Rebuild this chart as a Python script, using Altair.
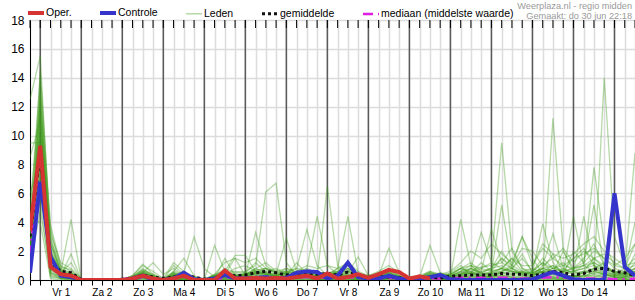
import altair as alt
import pandas as pd

FONT = "Liberation Sans"

DAY_LABELS = ["Vr 1", "Za 2", "Zo 3", "Ma 4", "Di 5", "Wo 6", "Do 7",
              "Vr 8", "Za 9", "Zo 10", "Ma 11", "Di 12", "Wo 13", "Do 14"]
DAY_STARTS = [1, 5, 9, 13, 17, 21, 25, 29, 33, 37, 41, 45, 49, 53, 57]
STEPS = list(range(60))          # 6-hour steps starting do 30 jun 18:00
Y_TICKS = [0, 2, 4, 6, 8, 10, 12, 14, 16, 18]

HEADER_1 = "Weerplaza.nl - regio midden"
HEADER_2 = "Gemaakt: do 30 jun 22:18"

# mm per 6 hours
OPER = [3.4, 9.3, 0.9, 0.4, 0.3, 0, 0, 0, 0, 0, 0.1, 0.3, 0.1, 0, 0.1, 0.3, 0,
        0, 0, 0.65, 0.1, 0.1, 0.15, 0.1, 0.15, 0.1, 0.2, 0.3, 0.1,
        0.45, 0.1, 0.2, 0.4, 0.15, 0.4, 0.7, 0.55, 0.1, 0.25, 0.1]

CONTROLE = [0.5, 6.8, 1.6, 0.3, 0.2, 0, 0, 0, 0, 0, 0.1, 0.3, 0.05, 0, 0.1, 0.5, 0.05,
            0, 0.1, 0.35, 0.1, 0.1, 0.15, 0.2, 0.1, 0.15, 0.5, 0.6, 0.55,
            0.1, 0.3, 1.2, 0.2, 0.1, 0.1, 0.3, 0.1, 0, 0.1, 0.2, 0.35,
            0.05, 0, 0, 0, 0, 0, 0, 0, 0.05, 0.3, 0.55, 0.3, 0.05, 0, 0, 0,
            6.0, 0.9, 0.3]

GEMIDDELDE = [3.0, 8.8, 1.2, 0.6, 0.5, 0.05, 0.02, 0.03, 0.02, 0.05, 0.15, 0.35, 0.2,
              0.1, 0.2, 0.35, 0.2, 0.05, 0.15, 0.35, 0.3, 0.35, 0.5, 0.6, 0.5,
              0.35, 0.45, 0.5, 0.4, 0.45, 0.35, 0.55, 0.35, 0.2, 0.25, 0.2, 0.15,
              0.1, 0.15, 0.2, 0.15, 0.25, 0.3, 0.35, 0.35, 0.35, 0.45, 0.4, 0.4,
              0.3, 0.4, 0.6, 0.5, 0.35, 0.45, 0.75, 0.8, 0.6, 0.5, 0.3]

MEDIAAN = [1.7, 9.2, 0.9, 0.3, 0.3, 0, 0, 0, 0, 0, 0.05, 0.2, 0.05, 0, 0.1, 0.2, 0.05,
           0, 0.05, 0.15, 0.15, 0.15, 0.2, 0.15, 0.15, 0.2, 0.15, 0.2, 0.15,
           0.15, 0.15, 0.2, 0.15, 0.05, 0.1, 0.15, 0.1, 0, 0.05, 0.1, 0.1,
           0.1, 0.15, 0.15, 0.15, 0.15, 0.15, 0.15, 0.1, 0.1, 0.15, 0.2, 0.15,
           0.1, 0.1, 0.1, 0.1, 0.05, 0.05, 0.1]

LEDEN = [
    [12.5, 15.5, 2.5, 0.6, 0.3, 0, 0, 0, 0, 0, 0.2, 0.8, 0.3, 0, 0.4, 0.2, 0, 0, 0.3, 0.8, 0.5, 0.6, 1.0, 6.1, 6.7, 1.2, 0.3, 0.5, 0.2, 0, 0.3, 0.8, 0.2, 0, 0.1, 0.3, 0.1, 0, 0, 0.2, 0.1, 0.3, 0.8, 0.5, 1.2, 0.6, 1.5, 0.8, 0.3, 0.2, 0.8, 1.8, 0.6, 1.5, 2.2, 1.0, 0.5, 0.3, 0.2, 0.6],
    [3.0, 14.5, 3.5, 0.8, 0.5, 0, 0, 0.1, 0, 0, 0.1, 0.5, 0.2, 0, 1.0, 0.4, 0, 0.1, 0.2, 0.4, 1.5, 0.3, 0.5, 0.8, 0.4, 2.9, 0.6, 0.2, 0.1, 0.4, 0.2, 0.3, 0, 0, 0.2, 0.4, 0.2, 0, 0, 0.3, 0.5, 0.2, 4.2, 1.0, 0.4, 0.5, 5.2, 0.8, 1.5, 0.6, 1.2, 0.5, 2.0, 0.8, 1.5, 2.5, 1.0, 0.5, 0.3, 1.2],
    [4.5, 14.0, 3.0, 0.5, 4.2, 0, 0, 0, 0, 0, 0.3, 1.1, 0.4, 0, 0.3, 0.2, 0, 0, 0.4, 0.6, 1.7, 1.7, 0.6, 0.4, 0.3, 0.5, 0.8, 3.5, 1.0, 0.3, 0.6, 1.2, 0.3, 0, 0, 0.6, 0.2, 0, 0.1, 0.4, 0.2, 0, 0.3, 0.8, 3.3, 1.2, 9.5, 2.0, 0.8, 0.4, 0.5, 0.8, 1.2, 0.6, 1.0, 7.8, 2.5, 1.0, 0.8, 2.5],
    [2.0, 13.5, 2.0, 0.3, 1.8, 0, 0.1, 0, 0, 0, 0.1, 0.6, 0.2, 0, 0.2, 0.5, 3.0, 0.8, 0.2, 0.3, 0.2, 0.3, 3.3, 1.0, 0.5, 0.2, 0.3, 0.6, 0.4, 0.2, 0.1, 0.4, 0.1, 0, 0.3, 0.5, 0.1, 0, 0.2, 0.6, 0.3, 0.5, 1.0, 0.3, 0.6, 3.5, 1.2, 0.8, 1.8, 0.5, 3.9, 1.2, 0.4, 0.2, 0.6, 1.5, 0.8, 0.3, 0.4, 1.8],
    [1.0, 13.0, 1.5, 0.4, 0.5, 0, 0, 0, 0, 0, 0.1, 0.3, 0.1, 0, 0.5, 0.3, 0.1, 0, 2.4, 0.6, 0.2, 0.4, 0.8, 0.5, 0.2, 0.3, 1.2, 0.4, 0.2, 0.1, 0.2, 0.5, 1.6, 0.3, 0.1, 0.2, 0, 0, 0, 0.1, 0, 0, 0.2, 0.5, 0.3, 0.2, 0.6, 1.0, 3.0, 1.5, 0.4, 11.2, 2.0, 0.6, 0.4, 0.8, 1.2, 0.4, 0.2, 0.8],
    [5.0, 12.5, 3.8, 1.0, 0.6, 0, 0, 0, 0, 0, 0.2, 0.5, 1.2, 0.4, 0.8, 0.3, 0.1, 0, 0.2, 0.4, 0.6, 0.5, 1.2, 0.6, 0.8, 0.4, 0.3, 0.8, 4.4, 1.0, 0.4, 0.3, 0.2, 0, 0.2, 0.3, 0.1, 0, 0, 0.2, 0, 0.1, 0.4, 0.8, 0.5, 0.4, 0.8, 0.6, 0.4, 0.3, 1.0, 3.2, 0.8, 0.5, 4.4, 1.0, 0.6, 0.4, 0.8, 1.5],
    [2.5, 12.0, 1.0, 0.2, 0.1, 0, 0, 0, 0, 0, 0.1, 0.2, 0.1, 0, 0.3, 0.1, 0, 0, 0.1, 1.5, 0.3, 0.2, 0.4, 0.3, 0.2, 0.3, 0.5, 0.4, 0.2, 6.5, 1.0, 0.3, 0.2, 0.1, 0.2, 0.4, 0.2, 0, 0, 0.1, 0, 0, 0.1, 0.3, 0.2, 0.3, 0.5, 0.4, 0.6, 0.8, 0.5, 0.4, 0.2, 0.3, 0.2, 0.6, 0.4, 0.2, 0.1, 0.3],
    [0.8, 11.8, 2.2, 0.5, 1.2, 0, 0, 0.1, 0, 0, 0.2, 0.7, 0.3, 0, 0.6, 1.5, 0.3, 0, 0.2, 0.3, 0.8, 1.0, 0.6, 0.8, 0.5, 0.4, 0.2, 0.3, 0.6, 0.3, 0.8, 4.4, 0.5, 0.2, 0.4, 0.8, 0.3, 0, 0.1, 0.4, 0.2, 0.2, 0.6, 1.0, 0.5, 0.8, 2.0, 1.0, 0.6, 0.5, 0.8, 0.6, 0.4, 2.0, 1.2, 5.2, 0.8, 0.6, 0.5, 0.4],
    [3.5, 11.5, 1.8, 0.6, 0.4, 0, 0, 0, 0, 0, 0.1, 0.4, 0.2, 0, 0.2, 0.1, 0, 0, 0.1, 0.2, 0.3, 0.4, 0.5, 0.6, 0.3, 0.5, 0.4, 0.3, 0.2, 0.2, 0.3, 0.2, 0.1, 0, 0.3, 2.2, 0.5, 0, 0.1, 0.3, 0.1, 0.2, 0.4, 0.6, 0.3, 0.4, 0.6, 0.8, 0.5, 0.3, 0.6, 0.5, 0.8, 0.4, 0.6, 0.4, 14.0, 3.0, 1.0, 0.5],
    [8.5, 11.0, 0.8, 0.3, 0.2, 0, 0, 0, 0, 0, 0, 0.2, 0, 0, 0.1, 0, 0, 0, 0, 0.1, 0.2, 0.1, 0.3, 0.2, 0.1, 0.2, 0.1, 0.2, 0.1, 0.1, 0.2, 0.1, 0, 0, 0, 0.1, 0, 0, 0, 0.1, 0, 0, 0.1, 0.2, 0.1, 0.2, 0.3, 0.2, 0.1, 0.1, 0.3, 0.2, 0.1, 0.2, 0.3, 0.2, 0.4, 0.2, 0.1, 0.2],
    [1.5, 10.8, 2.8, 0.9, 0.7, 0, 0, 0, 0, 0, 0.2, 0.6, 0.3, 0, 0.4, 0.2, 0.1, 0, 0.3, 0.5, 0.4, 0.3, 0.8, 1.2, 0.6, 0.6, 0.5, 0.4, 0.3, 0.4, 0.6, 0.8, 0.4, 0.2, 0.5, 0.6, 0.3, 0, 0.2, 2.4, 0.5, 0.3, 0.6, 0.4, 0.8, 1.2, 0.8, 1.5, 0.6, 0.4, 0.6, 1.0, 0.5, 4.4, 1.0, 0.6, 0.4, 0.3, 0.5, 0.8],
    [2.2, 10.5, 1.2, 0.2, 0.3, 0, 0, 0, 0, 0, 0.1, 0.3, 0.1, 0, 0.5, 0.2, 0, 0, 0.1, 0.2, 0.1, 0.2, 0.4, 0.3, 0.2, 0.3, 0.2, 0.3, 0.2, 0.2, 0.3, 0.2, 0.1, 0, 0.1, 0.2, 0, 0, 0, 0.2, 0.1, 0.1, 0.3, 0.5, 0.2, 0.3, 0.4, 0.3, 0.2, 0.2, 0.4, 0.6, 0.3, 0.2, 0.5, 0.8, 0.4, 0.2, 0.3, 0.4],
    [0.5, 10.2, 0.5, 0.1, 0.1, 0, 0, 0, 0, 0, 0, 0.1, 0, 0, 0, 0, 0, 0, 0, 0, 0, 0, 0.1, 0, 0, 0, 0, 0.1, 0, 0, 0, 0, 0, 0, 0, 0.1, 0, 0, 0, 0, 0, 0, 0, 0.1, 0, 0, 0.1, 0, 0, 0, 0.1, 0.1, 0, 0, 0, 0.1, 0, 0, 0, 0],
    [4.0, 10.0, 2.5, 0.7, 0.5, 0, 0, 0, 0, 0, 0.1, 0.5, 0.2, 0, 0.6, 0.4, 0.2, 0, 0.3, 0.4, 0.2, 0.5, 0.6, 0.4, 0.3, 0.6, 0.8, 0.6, 0.5, 0.4, 0.5, 0.6, 0.4, 0.2, 0.4, 0.5, 0.3, 0, 0.2, 0.5, 0.3, 0.4, 0.8, 0.6, 0.9, 1.0, 1.2, 2.2, 0.8, 0.6, 1.5, 0.8, 1.0, 0.8, 1.2, 2.0, 1.5, 0.8, 0.6, 4.0],
    [1.8, 9.8, 1.6, 0.4, 0.2, 0, 0, 0, 0, 0, 0.1, 0.4, 0.1, 0, 0.3, 0.2, 0, 0, 0.2, 0.3, 0.2, 0.2, 0.5, 0.4, 0.3, 0.4, 0.3, 0.5, 0.3, 0.3, 0.4, 0.3, 0.2, 0.1, 0.2, 0.3, 0.1, 0, 0.1, 0.3, 0.2, 0.2, 0.5, 0.8, 0.4, 0.6, 0.8, 0.5, 0.4, 0.5, 0.8, 0.6, 0.5, 0.6, 0.8, 1.2, 0.8, 0.5, 0.4, 0.6],
    [9.5, 9.5, 0.6, 0.2, 0.1, 0, 0, 0, 0, 0, 0, 0.2, 0, 0, 0.1, 0, 0, 0, 0, 0.1, 0, 0.1, 0.2, 0.1, 0, 0.1, 0.2, 0.1, 0, 0, 0.1, 0.1, 0, 0, 0, 0.1, 0, 0, 0, 0, 0, 0, 0.1, 0.2, 0.1, 0.1, 0.2, 0.1, 0.1, 0.2, 0.3, 0.2, 0.1, 0.2, 0.3, 0.3, 0.2, 0.1, 0.2, 0.3],
    [3.2, 9.2, 3.2, 1.2, 0.8, 0.1, 0, 0, 0, 0, 0.3, 1.0, 0.6, 0.1, 1.2, 0.6, 0.2, 0, 0.4, 1.2, 1.5, 1.2, 1.5, 0.8, 0.6, 0.8, 0.6, 1.0, 0.8, 1.0, 0.8, 1.2, 0.6, 0.3, 0.6, 1.0, 0.5, 0.2, 0.3, 0.6, 0.4, 0.6, 1.2, 2.0, 1.5, 2.5, 1.8, 1.2, 3.0, 1.0, 2.5, 1.8, 1.5, 1.8, 2.5, 3.0, 2.0, 1.5, 1.0, 1.2],
    [0.6, 9.0, 0.9, 0.3, 0.2, 0, 0, 0, 0, 0, 0.1, 0.3, 0.1, 0, 0.4, 0.2, 0, 0, 0.2, 0.3, 0.1, 0.2, 0.3, 0.2, 0.1, 0.2, 0.3, 0.2, 0.1, 0.2, 0.3, 0.2, 0.1, 0, 0.2, 0.3, 0.1, 0, 0.1, 0.2, 0.1, 0.1, 0.3, 0.4, 0.2, 0.3, 0.5, 0.4, 0.3, 0.3, 0.5, 0.4, 0.3, 0.3, 0.5, 0.6, 0.4, 0.3, 0.4, 0.5],
    [2.8, 8.8, 1.4, 0.5, 0.3, 0, 0, 0, 0, 0, 0.2, 0.5, 0.2, 0, 0.3, 0.2, 0.1, 0, 0.2, 0.4, 0.3, 0.3, 0.6, 0.5, 0.4, 0.5, 0.4, 0.6, 0.4, 0.3, 0.4, 0.5, 0.3, 0.2, 0.3, 0.5, 0.2, 0, 0.2, 0.4, 0.2, 0.3, 0.5, 0.6, 0.4, 0.5, 0.6, 0.8, 0.5, 0.5, 0.8, 1.0, 0.6, 0.6, 0.8, 1.0, 0.8, 0.6, 0.5, 0.8],
    [1.2, 8.5, 2.0, 0.6, 0.4, 0, 0, 0, 0, 0, 0.3, 0.7, 0.4, 0.1, 0.5, 0.3, 0.1, 0, 0.3, 0.5, 0.4, 0.4, 0.7, 0.8, 0.5, 0.6, 0.4, 0.5, 0.3, 0.4, 0.5, 0.6, 0.3, 0.2, 0.4, 0.5, 0.2, 0, 0.1, 0.3, 0.2, 0.3, 0.6, 0.8, 0.5, 0.8, 1.0, 0.6, 0.5, 0.6, 1.2, 0.8, 0.6, 0.8, 1.0, 1.5, 1.0, 0.6, 0.4, 0.6],
    [6.0, 8.2, 0.4, 0.1, 0.1, 0, 0, 0, 0, 0, 0, 0.1, 0, 0, 0.2, 0, 0, 0, 0, 0.2, 0, 0.1, 0.2, 0.1, 0, 0.1, 0.1, 0.2, 0.1, 0, 0.1, 0.2, 0, 0, 0.1, 0.1, 0, 0, 0, 0.1, 0, 0, 0.2, 0.3, 0.1, 0.2, 0.3, 0.2, 0.1, 0.1, 0.3, 0.2, 0.2, 0.3, 0.2, 0.4, 0.2, 0.1, 0.2, 0.3],
    [2.0, 7.8, 1.1, 0.3, 0.2, 0, 0, 0, 0, 0, 0.1, 0.3, 0.2, 0, 0.2, 0.1, 0, 0, 0.1, 0.2, 0.2, 0.3, 0.4, 0.3, 0.2, 0.3, 0.2, 0.3, 0.2, 0.2, 0.2, 0.3, 0.2, 0.1, 0.2, 0.3, 0.1, 0, 0.1, 0.2, 0.1, 0.2, 0.4, 0.5, 0.3, 0.4, 0.5, 0.6, 0.4, 0.4, 0.6, 0.5, 0.4, 0.5, 0.6, 0.8, 0.5, 0.4, 0.3, 0.5],
    [0.4, 7.5, 0.3, 0.1, 0, 0, 0, 0, 0, 0, 0, 0, 0, 0, 0, 0, 0, 0, 0, 0, 0, 0, 0, 0.1, 0, 0, 0, 0, 0, 0, 0, 0, 0, 0, 0, 0, 0, 0, 0, 0, 0, 0, 0, 0.1, 0, 0, 0, 0, 0, 0, 0, 0.1, 0, 0, 0, 0, 0, 0, 0, 0],
    [3.8, 7.0, 1.5, 0.4, 0.3, 0, 0, 0, 0, 0, 0.1, 0.4, 0.2, 0, 0.3, 0.6, 0.2, 0.1, 0.3, 0.5, 0.3, 0.4, 0.5, 0.4, 0.3, 0.5, 0.6, 0.8, 0.5, 0.4, 0.8, 0.6, 0.4, 0.2, 0.3, 0.4, 0.2, 0, 0.2, 0.5, 0.3, 0.4, 0.8, 1.2, 0.6, 0.8, 1.5, 1.0, 2.2, 2.0, 1.0, 1.5, 2.2, 1.2, 2.0, 1.5, 1.8, 1.2, 0.8, 1.0],
    [1.4, 6.5, 0.7, 0.2, 0.1, 0, 0, 0, 0, 0, 0, 0.2, 0.1, 0, 0.2, 0.1, 0, 0, 0.1, 0.1, 0.1, 0.1, 0.2, 0.2, 0.1, 0.2, 0.1, 0.2, 0.1, 0.1, 0.2, 0.2, 0.1, 0, 0.1, 0.2, 0.1, 0, 0.1, 0.1, 0, 0.1, 0.2, 0.3, 0.2, 0.2, 0.3, 0.2, 0.2, 0.2, 0.3, 0.3, 0.2, 0.3, 0.3, 0.5, 0.3, 0.2, 0.2, 0.3],
    [2.4, 5.5, 0.2, 0.1, 0, 0, 0, 0, 0, 0, 0, 0.1, 0, 0, 0, 0.1, 0, 0, 0, 0, 0.1, 0, 0.1, 0, 0, 0, 0.1, 0, 0, 0, 0, 0.1, 0, 0, 0, 0, 0, 0, 0, 0.1, 0, 0, 0.1, 0, 0, 0, 0.1, 0.1, 0, 0, 0.1, 0, 0.1, 0, 0.1, 0.1, 0, 0, 0, 0.1],
    [0.9, 4.8, 0.5, 0.2, 0.1, 0, 0, 0, 0, 0, 0.1, 0.2, 0, 0, 0.1, 0.1, 0, 0, 0, 0.1, 0.1, 0.1, 0.1, 0.1, 0, 0.1, 0.1, 0.1, 0, 0, 0.1, 0.1, 0, 0, 0, 0.1, 0, 0, 0, 0.1, 0, 0, 0.1, 0.1, 0.1, 0.1, 0.2, 0.1, 0.1, 0.1, 0.2, 0.1, 0.1, 0.2, 0.1, 0.2, 0.1, 0.1, 0.1, 0.1],
    [4.2, 4.0, 0.1, 0, 0, 0, 0, 0, 0, 0, 0, 0, 0, 0, 0, 0, 0, 0, 0, 0, 0, 0, 0, 0, 0, 0, 0, 0, 0, 0, 0, 0, 0, 0, 0, 0, 0, 0, 0, 0, 0, 0, 0, 0, 0, 0, 0, 0, 0, 0, 0, 0, 0, 0, 0, 0, 0, 0, 0, 0],
    [1.6, 11.2, 2.6, 0.5, 0.4, 0, 0, 0, 0, 0, 0.2, 0.6, 0.3, 0, 0.4, 0.3, 0.1, 0, 0.2, 0.4, 0.3, 0.4, 0.6, 0.5, 0.4, 0.8, 0.5, 0.6, 0.4, 0.5, 0.6, 0.8, 0.4, 0.3, 0.5, 0.8, 0.3, 0, 0.2, 0.5, 0.3, 0.4, 0.8, 1.0, 0.8, 0.6, 0.8, 1.5, 1.0, 1.0, 2.2, 1.5, 1.0, 1.5, 1.8, 2.2, 1.5, 1.0, 1.5, 2.5],
    [2.6, 12.8, 1.9, 0.4, 0.3, 0, 0, 0, 0, 0, 0.1, 0.5, 0.2, 0, 0.3, 0.2, 0, 0, 0.2, 0.3, 0.2, 0.2, 0.5, 0.4, 0.3, 0.4, 0.3, 0.5, 0.3, 0.3, 0.5, 0.4, 0.2, 0.2, 0.3, 0.4, 0.2, 0, 0.1, 0.3, 0.2, 0.2, 0.4, 0.5, 0.3, 0.5, 0.8, 0.6, 0.5, 0.5, 0.6, 0.8, 0.6, 0.8, 1.0, 1.2, 0.8, 0.5, 0.6, 8.8],
]

for k, m in enumerate(LEDEN):
    if len(m) != len(STEPS):
        raise ValueError(f"member {k} has {len(m)} values")
for name, s in [("CONTROLE", CONTROLE), ("GEMIDDELDE", GEMIDDELDE), ("MEDIAAN", MEDIAAN)]:
    if len(s) != len(STEPS):
        raise ValueError(f"{name} has {len(s)} values")

SERIES = ["Oper.", "Controle", "Leden", "gemiddelde", "mediaan (middelste waarde)"]
COLORS = ["#d63333", "#3535cc", "#3f9c1a", "#111111", "#e020e0"]
DASHES = [[1, 0], [1, 0], [1, 0], [3, 3], [10, 5, 2, 5]]
WIDTHS = [4, 4, 1.3, 3, 2.5]
OPACS = [1, 1, 0.38, 1, 1]


def frame(series, member, values):
    return pd.DataFrame({"series": series, "member": member,
                         "i": STEPS[:len(values)], "v": values})


leden_df = pd.concat([frame("Leden", f"m{k:02d}", m) for k, m in enumerate(LEDEN)],
                     ignore_index=True)
oper_df = frame("Oper.", "oper", OPER)
ctrl_df = frame("Controle", "ctrl", CONTROLE)
mean_df = frame("gemiddelde", "mean", GEMIDDELDE)
med_df = frame("mediaan (middelste waarde)", "med", MEDIAAN)
days_df = pd.DataFrame({"i": DAY_STARTS})
ticks_df = pd.DataFrame({"i": STEPS})

label_list = ",".join(f"'{d}'" for d in DAY_LABELS)
X = alt.X("i:Q",
          scale=alt.Scale(domain=[0, 59], nice=False, zero=False),
          axis=alt.Axis(values=STEPS, title=None, grid=True, gridColor="#dcdcdc",
                        gridWidth=1.5, tickSize=5, tickColor="#000", domainColor="#000",
                        labelExpr=f"datum.value % 4 == 3 ? [{label_list}][(datum.value - 3) / 4] : ''",
                        labelOverlap=False, labelFlush=False, labelBound=False,
                        labelFont=FONT, labelFontSize=10, labelColor="#000",
                        labelPadding=2))
Y = alt.Y("v:Q",
          scale=alt.Scale(domain=[0, 18], nice=False),
          axis=alt.Axis(values=Y_TICKS, title=None, grid=True, gridColor="#dcdcdc",
                        gridWidth=1.5, tickSize=0, domainColor="#000",
                        labelFont=FONT, labelFontSize=12, labelColor="#000",
                        labelPadding=6))

LEG = alt.Legend(title=None, orient="none", legendX=-11, legendY=-17,
                 direction="horizontal", columns=5, symbolType="stroke",
                 symbolSize=256, symbolOffset=7, labelFont=FONT, labelFontSize=10.5,
                 labelColor="#000", labelOffset=0, columnPadding=19, padding=0)


def series_lines(df):
    return alt.Chart(df).mark_line(clip=True, strokeCap="butt").encode(
        x=X, y=Y,
        color=alt.Color("series:N", scale=alt.Scale(domain=SERIES, range=COLORS), legend=LEG),
        strokeDash=alt.StrokeDash("series:N", scale=alt.Scale(domain=SERIES, range=DASHES), legend=LEG),
        strokeWidth=alt.StrokeWidth("series:N", scale=alt.Scale(type="ordinal", domain=SERIES, range=WIDTHS), legend=LEG),
        opacity=alt.Opacity("series:N", scale=alt.Scale(type="ordinal", domain=SERIES, range=OPACS), legend=LEG),
        detail="member:N",
        order="i:Q",
    )


day_rules = alt.Chart(days_df).mark_rule(color="#5a5a5a", strokeWidth=1.5).encode(x=X)
top_ticks = alt.Chart(ticks_df).mark_rule(color="#000", strokeWidth=1).encode(
    x=X, y=alt.value(0), y2=alt.value(8))

head1 = alt.Chart(pd.DataFrame({"t": [HEADER_1]})).mark_text(
    align="right", baseline="middle", font=FONT, fontSize=9.2, color="#9a9a9a"
).encode(text="t:N", x=alt.value(602), y=alt.value(-14))
head2 = alt.Chart(pd.DataFrame({"t": [HEADER_2]})).mark_text(
    align="right", baseline="middle", font=FONT, fontSize=9.2, color="#9a9a9a"
).encode(text="t:N", x=alt.value(602), y=alt.value(-4))

chart = alt.layer(
    day_rules, top_ticks,
    series_lines(leden_df), series_lines(med_df), series_lines(mean_df),
    series_lines(ctrl_df), series_lines(oper_df),
    head1, head2,
).properties(
    width=605, height=260,
    padding={"left": 30, "top": 20, "right": 0, "bottom": 20},
    autosize=alt.AutoSizeParams(type="none"),
).configure_view(stroke="#000", strokeWidth=1).configure(background="white")

chart.save("out.html", embed_options={"renderer": "svg", "actions": False})
